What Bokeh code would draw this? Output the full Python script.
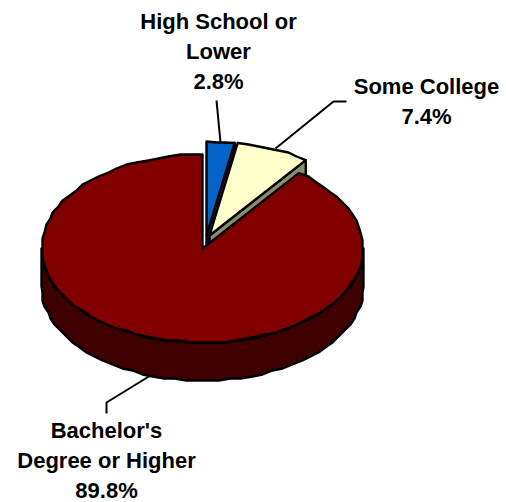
import math
from bokeh.core.properties import value
from bokeh.embed import file_html
from bokeh.models import Range1d
from bokeh.plotting import figure
from bokeh.resources import INLINE

# Survey shares, in percent, clockwise from twelve o'clock
categories = ["High School or\nLower", "Some College", "Bachelor's\nDegree or Higher"]
shares = [2.8, 7.4, 89.8]
top_colors = ["#0563C8", "#FFFFCC", "#800000"]
wall_colors = ["#0F3A78", "#8C8C6E", "#3F0000"]

# Tilted disc geometry on a y-down pixel scale
CX, CY = 202, 248
RX, RY = 161, 94
DEPTH = 38
OFFSETS = [(4, -13), (7, -13), (0, 0)]
LABEL_POS = [(218, 21), (426, 86), (106, 430)]
LINE_GAP = 30
LEADERS = [
    ([216, 220], [100, 142]),
    ([275, 333, 346], [148, 101, 101]),
    ([150, 106, 106], [375, 402, 413]),
]
ARC_STEP = math.radians(4)
RIM_GRID = 2  # coarse vertex grid gives the rim its stepped outline
EDGE_WIDTH = 2.4

p = figure(width=506, height=502, output_backend="svg", toolbar_location=None,
           x_range=Range1d(0, 506), y_range=Range1d(502, 0), min_border=0,
           outline_line_color=None, background_fill_color="white")
p.axis.visible = False
p.grid.visible = False


def rim(a0, a1, cx, cy):
    """Points along the disc rim between two clockwise angles."""
    n = max(1, round((a1 - a0) / ARC_STEP))
    xs, ys = [], []
    for i in range(n + 1):
        a = a0 + (a1 - a0) * i / n
        x, y = cx + RX * math.sin(a), cy - RY * math.cos(a)
        if 0 < i < n:
            x = RIM_GRID * round(x / RIM_GRID)
            y = RIM_GRID * round(y / RIM_GRID)
        xs.append(x)
        ys.append(y)
    return xs, ys


def shape(xs, ys, color):
    p.patch(xs, ys, fill_color=color, line_color="black", line_width=EDGE_WIDTH, line_join="round")


# Slice boundaries from the shares
bounds = [0.0]
for s in shares:
    bounds.append(bounds[-1] + s / sum(shares) * 2 * math.pi)

# The two small exploded slices sit behind the large one
for i in (0, 1):
    cx, cy = CX + OFFSETS[i][0], CY + OFFSETS[i][1]
    a1 = bounds[i + 1]
    ex, ey = rim(a1, a1, cx, cy)
    shape([cx, ex[0], ex[0], cx], [cy, ey[0], ey[0] + DEPTH, cy + DEPTH], wall_colors[i])
    xs, ys = rim(bounds[i], a1, cx, cy)
    shape([cx] + xs, [cy] + ys, top_colors[i])

# Front wall of the large slice, visible along the lower half of the rim
xs, ys = rim(math.pi / 2, 3 * math.pi / 2, CX, CY)
shape(xs + [x for x in reversed(xs)], ys + [y + DEPTH for y in reversed(ys)], wall_colors[2])

xs, ys = rim(bounds[2], bounds[3], CX, CY)
shape([CX] + xs, [CY] + ys, top_colors[2])

# Leader lines
for lx, ly in LEADERS:
    p.line(lx, ly, line_color="black", line_width=2)

# Labels: category lines followed by the share
for cat, share, (tx, ty) in zip(categories, shares, LABEL_POS):
    lines = cat.split("\n") + [f"{share:.1f}%"]
    for j, line in enumerate(lines):
        p.text([tx], [ty + j * LINE_GAP], text=[line], text_align="center",
               text_baseline="middle", text_color="black", text_font_size="22px",
               text_font_style="bold", text_font=value("Liberation Sans"))

open("out.html", "w").write(file_html(p, INLINE))
